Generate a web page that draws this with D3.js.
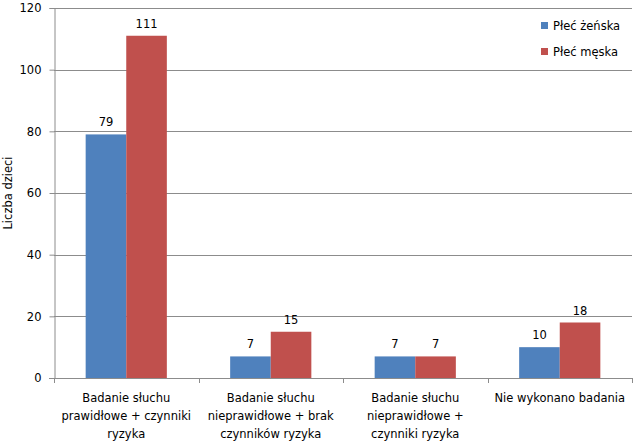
<!DOCTYPE html>
<html lang="pl">
<head>
<meta charset="UTF-8">
<title>Liczba dzieci</title>
<script src="https://d3js.org/d3.v7.min.js"></script>
<style>
  body { margin: 0; background: #fff; }
  text { font-family: "DejaVu Sans", Verdana, sans-serif; font-size: 11.5px; fill: #000; }
</style>
</head>
<body>
<svg id="chart"></svg>
<script>
  const categories = [
    ["Badanie słuchu", "prawidłowe + czynniki", "ryzyka"],
    ["Badanie słuchu", "nieprawidłowe + brak", "czynników ryzyka"],
    ["Badanie słuchu", "nieprawidłowe +", "czynniki ryzyka"],
    ["Nie wykonano badania"]
  ];
  const seriesNames = ["Płeć żeńska", "Płeć męska"];
  const female = [79, 7, 7, 10];
  const male = [111, 15, 7, 18];
  const yTicks = [0, 20, 40, 60, 80, 100, 120];
  const colors = ["#4F81BD", "#C0504D"];

  const width = 636, height = 443;
  const margin = { top: 8, right: 4, bottom: 65, left: 54 };

  const svg = d3.select("#chart").attr("width", width).attr("height", height);

  const x = d3.scaleBand()
    .domain(d3.range(categories.length))
    .range([margin.left, width - margin.right])
    .paddingInner(0).paddingOuter(0);

  const x1 = d3.scaleBand()
    .domain([0, 1])
    .range([0, x.bandwidth()])
    .paddingInner(0).paddingOuter(0.78);

  const y = d3.scaleLinear().domain([0, 120]).range([height - margin.bottom, margin.top]);

  // gridlines
  svg.append("g").selectAll("line").data(yTicks.filter(d => d > 0)).join("line")
    .attr("x1", margin.left).attr("x2", width - margin.right)
    .attr("y1", d => Math.round(y(d)) + 0.5).attr("y2", d => Math.round(y(d)) + 0.5)
    .attr("stroke", "#8c8c8c").attr("stroke-width", 1);

  // bars
  const data = categories.map((c, i) => [female[i], male[i]]);
  const groups = svg.append("g").selectAll("g").data(data).join("g")
    .attr("transform", (d, i) => `translate(${x(i)},0)`);

  groups.selectAll("rect").data(d => d).join("rect")
    .attr("x", (d, j) => x1(j))
    .attr("width", x1.bandwidth())
    .attr("y", d => y(d))
    .attr("height", d => y(0) - y(d))
    .attr("fill", (d, j) => colors[j]);

  groups.selectAll("text").data(d => d).join("text")
    .attr("x", (d, j) => x1(j) + x1.bandwidth() / 2)
    .attr("y", d => y(d) - 8)
    .attr("text-anchor", "middle")
    .text(d => d);

  // y axis
  const yAxis = svg.append("g")
    .attr("transform", `translate(${margin.left + 0.5},0)`)
    .call(d3.axisLeft(y).tickValues(yTicks).tickSize(5).tickPadding(8));
  yAxis.select(".domain").attr("stroke", "#8c8c8c");
  yAxis.selectAll(".tick line").attr("stroke", "#8c8c8c");
  yAxis.selectAll(".tick text").attr("font-size", null).attr("font-family", null).attr("fill", "#000");

  // x axis
  const bounds = d3.range(categories.length + 1).map(i => margin.left + i * x.bandwidth());
  const xAxis = svg.append("g");
  xAxis.append("line")
    .attr("x1", margin.left - 5).attr("x2", width - margin.right)
    .attr("y1", Math.round(y(0)) + 0.5).attr("y2", Math.round(y(0)) + 0.5)
    .attr("stroke", "#8c8c8c");
  xAxis.selectAll(".tk").data(bounds).join("line").attr("class", "tk")
    .attr("x1", d => Math.round(d) + 0.5).attr("x2", d => Math.round(d) + 0.5)
    .attr("y1", y(0)).attr("y2", y(0) + 5)
    .attr("stroke", "#8c8c8c");

  xAxis.selectAll(".cat").data(categories).join("text").attr("class", "cat")
    .attr("text-anchor", "middle")
    .attr("x", (d, i) => x(i) + x.bandwidth() / 2)
    .attr("y", y(0) + 24)
    .selectAll("tspan").data(d => d).join("tspan")
    .attr("x", function () { return this.parentNode.getAttribute("x"); })
    .attr("dy", (d, k) => k === 0 ? 0 : 18)
    .text(d => d);

  // y label
  svg.append("text")
    .attr("transform", `translate(12,${y(60)}) rotate(-90)`)
    .attr("text-anchor", "middle")
    .text("Liczba dzieci");

  // legend
  const legend = svg.append("g").attr("transform", "translate(541,22)");
  const li = legend.selectAll("g").data(seriesNames).join("g")
    .attr("transform", (d, i) => `translate(0,${i * 26})`);
  li.append("rect").attr("width", 7).attr("height", 7).attr("fill", (d, i) => colors[i]);
  li.append("text").attr("x", 12).attr("y", 8).text(d => d);
</script>
</body>
</html>
